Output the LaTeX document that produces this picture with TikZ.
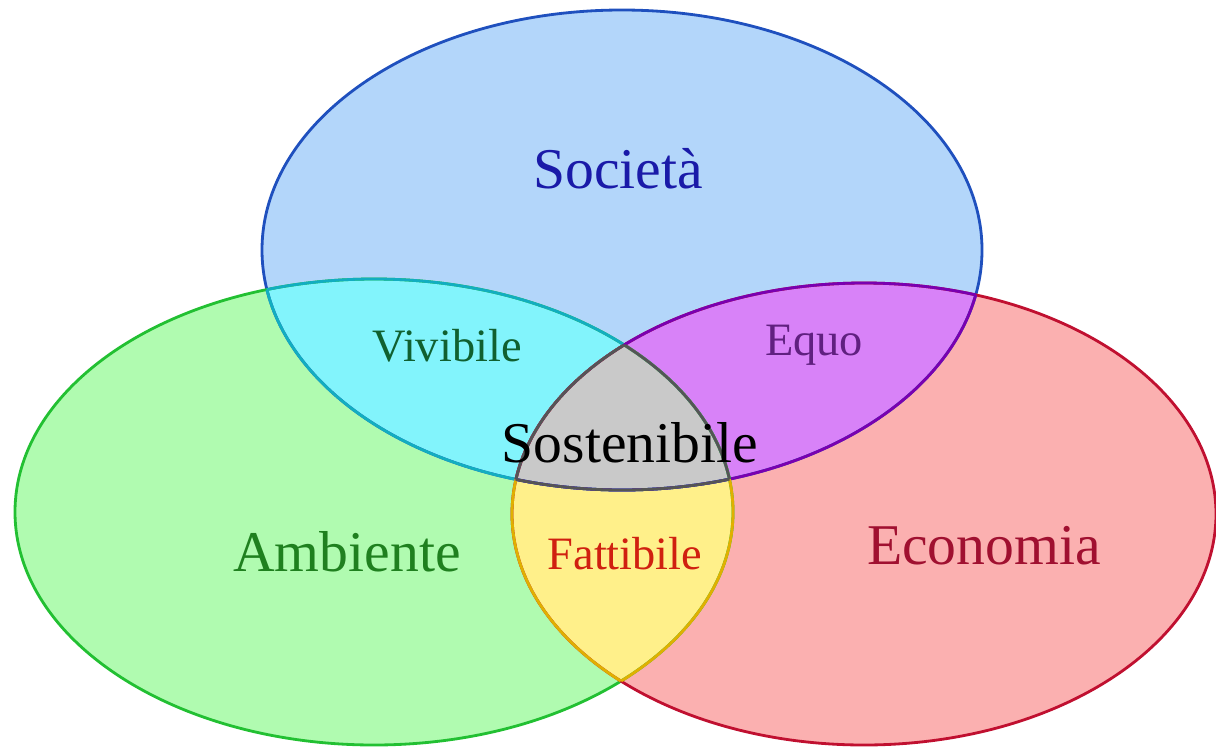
\documentclass[tikz,border=0pt]{standalone}
\usepackage{fontspec}
\setmainfont{Liberation Serif}
\usetikzlibrary{positioning}
\definecolor{socfill}{HTML}{B3D6FA}
\definecolor{socline}{HTML}{1F50BE}
\definecolor{soctext}{HTML}{1A1AA8}
\definecolor{ambfill}{HTML}{B0FBB0}
\definecolor{ambline}{HTML}{22C032}
\definecolor{ambtext}{HTML}{1F801F}
\definecolor{ecofill}{HTML}{FBB0B0}
\definecolor{ecoline}{HTML}{C01030}
\definecolor{ecotext}{HTML}{A01030}
\definecolor{vivfill}{HTML}{82F4FC}
\definecolor{vivline}{HTML}{12AEC0}
\definecolor{vivtext}{HTML}{106030}
\definecolor{equofill}{HTML}{D882F8}
\definecolor{equoline}{HTML}{7A00B0}
\definecolor{equotext}{HTML}{602080}
\definecolor{fatfill}{HTML}{FFF08A}
\definecolor{fatline}{HTML}{E0B000}
\definecolor{fattext}{HTML}{D02010}
\definecolor{sosfill}{HTML}{C9C9C9}
\definecolor{sosline}{HTML}{555555}
\newcommand{\socpath}{(622,250) ellipse [x radius=360, y radius=240]}
\newcommand{\ambpath}{(374,512) ellipse [x radius=359, y radius=233]}
\newcommand{\ecopath}{(864,514) ellipse [x radius=352, y radius=231]}
\tikzset{rim/.style = {line width = 2pt},
         bigname/.style = {font = \fontsize{41}{41}\selectfont, anchor = base},
         smallname/.style = {font = \fontsize{33}{33}\selectfont, anchor = base}}

\begin{document}
\begin{tikzpicture}[x=0.025cm, y=-0.025cm]
    \useasboundingbox (0, 0) rectangle (1216, 751);
    % fills
    \fill [socfill] \socpath;
    \fill [ambfill] \ambpath;
    \fill [ecofill] \ecopath;
    \begin{scope}
      \clip \socpath;
      \fill [vivfill] \ambpath;
      \fill [equofill] \ecopath;
    \end{scope}
    \begin{scope}
      \clip \ambpath;
      \fill [fatfill] \ecopath;
    \end{scope}
    \begin{scope}
      \clip \socpath;
      \clip \ambpath;
      \fill [sosfill] \ecopath;
    \end{scope}

    % outlines
    \draw [rim, socline] \socpath;
    \draw [rim, ambline] \ambpath;
    \draw [rim, ecoline] \ecopath;
    \begin{scope}
      \clip \ambpath;
      \draw [rim, vivline] \socpath;
      \draw [rim, fatline] \ecopath;
    \end{scope}
    \begin{scope}
      \clip \ecopath;
      \draw [rim, equoline] \socpath;
      \draw [rim, fatline] \ambpath;
    \end{scope}
    \begin{scope}
      \clip \socpath;
      \draw [rim, vivline] \ambpath;
      \draw [rim, equoline] \ecopath;
    \end{scope}
    \begin{scope}
      \clip \ambpath;
      \clip \ecopath;
      \draw [rim, sosline] \socpath;
    \end{scope}
    \begin{scope}
      \clip \socpath;
      \clip \ecopath;
      \draw [rim, sosline] \ambpath;
    \end{scope}
    \begin{scope}
      \clip \socpath;
      \clip \ambpath;
      \draw [rim, sosline] \ecopath;
    \end{scope}

    % names
    \node [bigname, text = soctext] (societa) at (618, 188) {Società};
    \node [bigname, text = ambtext] (ambiente) at (347, 571) {Ambiente};
    \node [bigname, text = ecotext] (economia) at (984, 564) {Economia};
    \node [bigname, text = black] (sostenibile) at (630, 462) {Sostenibile};
    \node [smallname, text = vivtext] (vivibile) at (447, 361) {Vivibile};
    \node [smallname, text = equotext] (equo) at (814, 355) {Equo};
    \node [smallname, text = fattext] (fattibile) at (625, 569) {Fattibile};
  \end{tikzpicture}
\end{document}
